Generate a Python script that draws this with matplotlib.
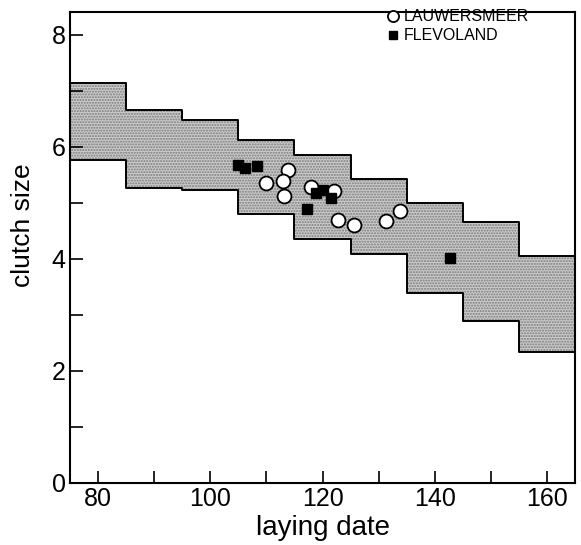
import numpy as np
import matplotlib
matplotlib.use("Agg")
import matplotlib.pyplot as plt

plt.rcParams['font.family'] = ['Liberation Sans', 'DejaVu Sans']

# band of expected clutch size per 10-day period
bin_edges = [75, 85, 95, 105, 115, 125, 135, 145, 155, 165]
band_upper = [7.15, 6.66, 6.48, 6.12, 5.86, 5.43, 5.00, 4.66, 4.05]
band_lower = [5.76, 5.27, 5.23, 4.80, 4.36, 4.08, 3.39, 2.89, 2.34]

# Lauwersmeer (open circles)
lau_date = [109.9, 113.9, 112.9, 113.1, 117.9, 122.1, 122.8, 125.7, 131.4, 133.8]
lau_size = [5.35, 5.59, 5.40, 5.13, 5.29, 5.22, 4.70, 4.61, 4.68, 4.86]

# Flevoland (filled squares)
fle_date = [104.9, 106.1, 108.4, 117.3, 118.8, 120.0, 121.5, 142.7]
fle_size = [5.68, 5.62, 5.66, 4.90, 5.17, 5.24, 5.08, 4.01]

fig = plt.figure(figsize=(5.81, 5.45), dpi=100)
ax = fig.add_axes([0.1205, 0.1138, 0.8692, 0.8642])

up = np.append(band_upper, band_upper[-1])
lo = np.append(band_lower, band_lower[-1])
ax.fill_between(bin_edges, lo, up, step='post', facecolor='#cbcbcb',
                edgecolor='#7a7a7a', hatch='......', linewidth=0, zorder=1)
ax.step(bin_edges, up, where='post', color='black', lw=1.4, zorder=2)
ax.step(bin_edges, lo, where='post', color='black', lw=1.4, zorder=2)

ax.plot(lau_date, lau_size, 'o', ms=10, mfc='white', mec='black', mew=1.3,
        ls='none', label='LAUWERSMEER', zorder=3)
ax.plot(fle_date, fle_size, 's', ms=7.5, mfc='black', mec='black',
        ls='none', label='FLEVOLAND', zorder=4)

ax.set_xlim(75, 165)
ax.set_ylim(0, 8.41)
ax.set_xticks(np.arange(80, 161, 10))
ax.set_xticklabels(['80', '', '100', '', '120', '', '140', '', '160'])
ax.set_yticks(np.arange(0, 9, 1))
ax.set_yticklabels(['0', '', '2', '', '4', '', '6', '', '8'])
ax.tick_params(direction='in', length=9, width=1.2, labelsize=18, pad=3)
for s in ax.spines.values():
    s.set_linewidth(1.5)

ax.set_xlabel('laying date', fontsize=20, labelpad=3)
ax.set_ylabel('clutch size', fontsize=19)
ax.yaxis.set_label_coords(-0.069, 0.548)

ax.legend(loc='upper left', bbox_to_anchor=(382 / 581, 1 - 6 / 545),
          bbox_transform=fig.transFigure, frameon=False, fontsize=11.5,
          handletextpad=0.15, borderaxespad=0, borderpad=0.2,
          labelspacing=0.25, markerscale=0.8, handlelength=1.0)

fig.savefig('out.png', dpi=100)
